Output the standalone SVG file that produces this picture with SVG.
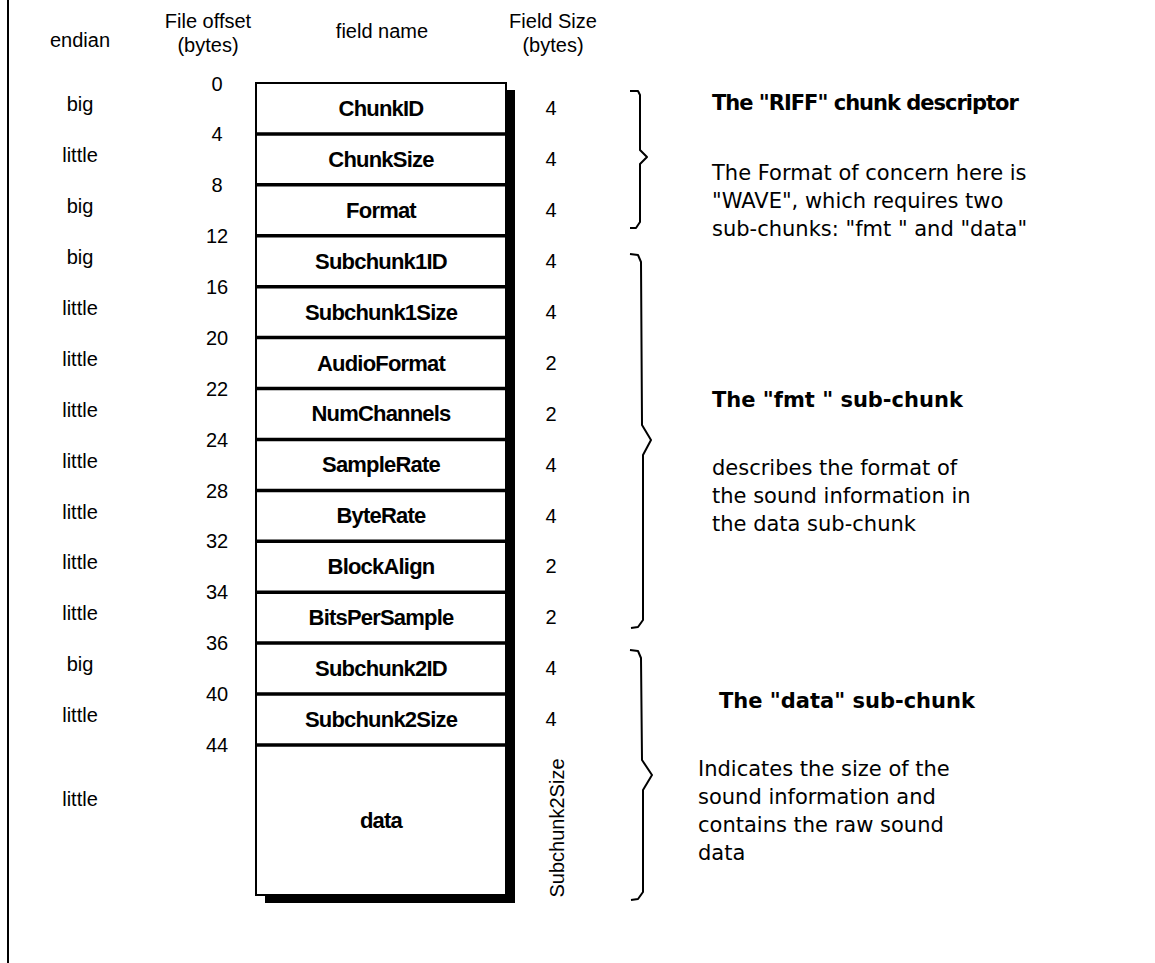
<svg xmlns="http://www.w3.org/2000/svg" width="1155" height="963" viewBox="0 0 1155 963">
  <style>
    .hdr { font-family: "Liberation Sans", Arial, sans-serif; font-size: 20px; fill: #000; text-anchor: middle; }
    .lbl { font-family: "Liberation Sans", Arial, sans-serif; font-size: 20px; fill: #000; text-anchor: middle; }
    .fld { font-family: "Liberation Sans", Arial, sans-serif; font-size: 22px; font-weight: bold; fill: #000; text-anchor: middle; letter-spacing: -0.8px; }
    .head { font-family: "DejaVu Sans", "Liberation Sans", sans-serif; font-size: 21px; font-weight: bold; fill: #000; }
    .body { font-family: "DejaVu Sans", "Liberation Sans", sans-serif; font-size: 21px; fill: #000; }
    .cell { fill: #fff; stroke: #000; stroke-width: 2; }
    .sep { stroke: #000; stroke-width: 3.5; }
    .brace { fill: none; stroke: #000; stroke-width: 2; stroke-linejoin: round; }
  </style>
  <rect x="0" y="0" width="1155" height="963" fill="#fff"/>
  <!-- left frame line -->
  <line x1="8" y1="0" x2="8" y2="963" stroke="#000" stroke-width="2"/>

  <!-- column headers -->
  <g id="headers">
    <text class="hdr" x="80" y="47">endian</text>
    <text class="hdr" x="208" y="28">File offset</text>
    <text class="hdr" x="208" y="52">(bytes)</text>
    <text class="hdr" x="382" y="38">field name</text>
    <text class="hdr" x="553" y="28">Field Size</text>
    <text class="hdr" x="553" y="52">(bytes)</text>
  </g>

  <!-- drop shadow of the field stack -->
  <g id="shadow">
    <rect x="506" y="90" width="9" height="813" fill="#000"/>
    <rect x="265" y="895" width="250" height="8" fill="#000"/>
  </g>

  <!-- field stack -->
  <g id="fields">
    <rect class="cell" x="256" y="83" width="250" height="812"/>
    <g id="field-ChunkID"><text class="fld" x="381" y="116">ChunkID</text></g>
    <g id="field-ChunkSize"><line class="sep" x1="256" y1="133.9" x2="506" y2="133.9"/><text class="fld" x="381" y="167">ChunkSize</text></g>
    <g id="field-Format"><line class="sep" x1="256" y1="184.8" x2="506" y2="184.8"/><text class="fld" x="381" y="218">Format</text></g>
    <g id="field-Subchunk1ID"><line class="sep" x1="256" y1="235.8" x2="506" y2="235.8"/><text class="fld" x="381" y="269">Subchunk1ID</text></g>
    <g id="field-Subchunk1Size"><line class="sep" x1="256" y1="286.7" x2="506" y2="286.7"/><text class="fld" x="381" y="320">Subchunk1Size</text></g>
    <g id="field-AudioFormat"><line class="sep" x1="256" y1="337.6" x2="506" y2="337.6"/><text class="fld" x="381" y="371">AudioFormat</text></g>
    <g id="field-NumChannels"><line class="sep" x1="256" y1="388.5" x2="506" y2="388.5"/><text class="fld" x="381" y="421">NumChannels</text></g>
    <g id="field-SampleRate"><line class="sep" x1="256" y1="439.4" x2="506" y2="439.4"/><text class="fld" x="381" y="472">SampleRate</text></g>
    <g id="field-ByteRate"><line class="sep" x1="256" y1="490.4" x2="506" y2="490.4"/><text class="fld" x="381" y="523">ByteRate</text></g>
    <g id="field-BlockAlign"><line class="sep" x1="256" y1="541.3" x2="506" y2="541.3"/><text class="fld" x="381" y="574">BlockAlign</text></g>
    <g id="field-BitsPerSample"><line class="sep" x1="256" y1="592.2" x2="506" y2="592.2"/><text class="fld" x="381" y="625">BitsPerSample</text></g>
    <g id="field-Subchunk2ID"><line class="sep" x1="256" y1="643.1" x2="506" y2="643.1"/><text class="fld" x="381" y="676">Subchunk2ID</text></g>
    <g id="field-Subchunk2Size"><line class="sep" x1="256" y1="694" x2="506" y2="694"/><text class="fld" x="381" y="727">Subchunk2Size</text></g>
    <g id="field-data"><line class="sep" x1="256" y1="745" x2="506" y2="745"/><text class="fld" x="381" y="828">data</text></g>
  </g>

  <!-- byte offsets, centred on the row boundaries -->
  <g id="offsets">
    <text class="lbl" x="217" y="91">0</text>
    <text class="lbl" x="217" y="141">4</text>
    <text class="lbl" x="217" y="192">8</text>
    <text class="lbl" x="217" y="243">12</text>
    <text class="lbl" x="217" y="294">16</text>
    <text class="lbl" x="217" y="345">20</text>
    <text class="lbl" x="217" y="396">22</text>
    <text class="lbl" x="217" y="447">24</text>
    <text class="lbl" x="217" y="498">28</text>
    <text class="lbl" x="217" y="548">32</text>
    <text class="lbl" x="217" y="599">34</text>
    <text class="lbl" x="217" y="650">36</text>
    <text class="lbl" x="217" y="701">40</text>
    <text class="lbl" x="217" y="752">44</text>
  </g>

  <!-- byte order of each field -->
  <g id="endian">
    <text class="lbl" x="80" y="111">big</text>
    <text class="lbl" x="80" y="162">little</text>
    <text class="lbl" x="80" y="213">big</text>
    <text class="lbl" x="80" y="264">big</text>
    <text class="lbl" x="80" y="315">little</text>
    <text class="lbl" x="80" y="366">little</text>
    <text class="lbl" x="80" y="417">little</text>
    <text class="lbl" x="80" y="468">little</text>
    <text class="lbl" x="80" y="519">little</text>
    <text class="lbl" x="80" y="569">little</text>
    <text class="lbl" x="80" y="620">little</text>
    <text class="lbl" x="80" y="671">big</text>
    <text class="lbl" x="80" y="722">little</text>
    <text class="lbl" x="80" y="806">little</text>
  </g>

  <!-- field sizes -->
  <g id="sizes">
    <text class="lbl" x="551" y="115">4</text>
    <text class="lbl" x="551" y="166">4</text>
    <text class="lbl" x="551" y="217">4</text>
    <text class="lbl" x="551" y="268">4</text>
    <text class="lbl" x="551" y="319">4</text>
    <text class="lbl" x="551" y="370">2</text>
    <text class="lbl" x="551" y="421">2</text>
    <text class="lbl" x="551" y="472">4</text>
    <text class="lbl" x="551" y="523">4</text>
    <text class="lbl" x="551" y="573">2</text>
    <text class="lbl" x="551" y="624">2</text>
    <text class="lbl" x="551" y="675">4</text>
    <text class="lbl" x="551" y="726">4</text>
    <text class="lbl" transform="translate(564 828) rotate(-90)">Subchunk2Size</text>
  </g>

  <!-- braces grouping the chunks -->
  <g id="connectors">
    <path class="brace" d="M630 91 L638 91 L640 95 L640 150 L647 157 L640 164 L640 222 L636 228 L630 228"/>
    <path class="brace" d="M630 254 L638 255 L641 262 L642 425 L651 440 L643 455 L643 620 L638 627 L631 628"/>
    <path class="brace" d="M630 650 L638 651 L641 658 L642 760 L652 775 L643 790 L643 892 L638 899 L631 900"/>
  </g>

  <g id="riff-note">
    <text class="head" x="712" y="110" letter-spacing="-1">The "RIFF" chunk descriptor</text>
    <text class="body" x="712" y="180">The Format of concern here is</text>
    <text class="body" x="712" y="208">"WAVE", which requires two</text>
    <text class="body" x="712" y="236">sub-chunks: "fmt " and "data"</text>
  </g>
  <g id="fmt-note">
    <text class="head" x="712" y="407">The "fmt " sub-chunk</text>
    <text class="body" x="712" y="475">describes the format of</text>
    <text class="body" x="712" y="503">the sound information in</text>
    <text class="body" x="712" y="531">the data sub-chunk</text>
  </g>
  <g id="data-note">
    <text class="head" x="719" y="708">The "data" sub-chunk</text>
    <text class="body" x="698" y="776">Indicates the size of the</text>
    <text class="body" x="698" y="804">sound information and</text>
    <text class="body" x="698" y="832">contains the raw sound</text>
    <text class="body" x="698" y="860">data</text>
  </g>
</svg>
